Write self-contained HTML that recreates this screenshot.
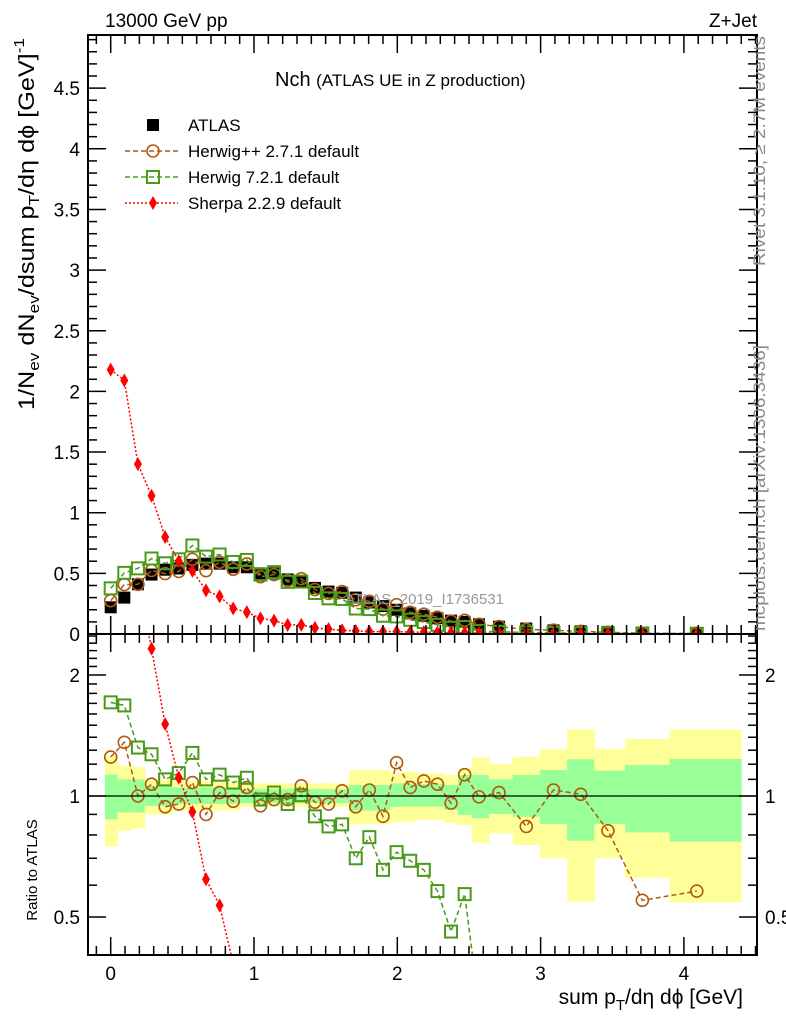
<!DOCTYPE html>
<html><head><meta charset="utf-8"><style>
html,body{margin:0;padding:0;background:#fff;font-family:"Liberation Sans",sans-serif;overflow:hidden;width:786px;height:1024px}
svg{display:block}
</style></head><body>
<svg id="c" width="786" height="1024" xmlns="http://www.w3.org/2000/svg" font-family="Liberation Sans, sans-serif">
<defs>
<clipPath id="ct"><rect x="88" y="35" width="669" height="599"/></clipPath>
<clipPath id="cb"><rect x="88" y="634" width="669" height="321"/></clipPath>
</defs>
<g id="bands" clip-path="url(#cb)"></g>
<g id="marks"></g>
<g id="frame"></g>
<text x="105" y="27" font-size="19">13000 GeV pp</text>
<text x="757" y="27" font-size="19" text-anchor="end">Z+Jet</text>
<text x="275" y="86" font-size="20">Nch <tspan font-size="17">(ATLAS UE in Z production)</tspan></text>
<text x="345" y="604" font-size="15" fill="#999">ATLAS_2019_I1736531</text>
<text transform="translate(765,266) rotate(-90)" font-size="17" fill="#888" textLength="230" lengthAdjust="spacingAndGlyphs">Rivet 3.1.10, ≥ 2.7M events</text>
<text transform="translate(765,631) rotate(-90)" font-size="17" fill="#888" textLength="286" lengthAdjust="spacingAndGlyphs">mcplots.cern.ch [arXiv:1306.3436]</text>
<text transform="translate(34,410) rotate(-90)" font-size="22" textLength="372" lengthAdjust="spacingAndGlyphs">1/N<tspan font-size="15" dy="5">ev</tspan><tspan dy="-5"> dN</tspan><tspan font-size="15" dy="5">ev</tspan><tspan dy="-5">/dsum p</tspan><tspan font-size="15" dy="5">T</tspan><tspan dy="-5">/dη dϕ  [GeV]</tspan><tspan font-size="15" dy="-10">-1</tspan></text>
<text transform="translate(37,870) rotate(-90)" font-size="15" text-anchor="middle">Ratio to ATLAS</text>
<text x="743" y="1004" font-size="21" text-anchor="end">sum p<tspan font-size="15" dy="6">T</tspan><tspan dy="-6">/dη dϕ [GeV]</tspan></text>
<g id="legend"></g>
</svg>
<script>
const xs=[0,0.095,0.19,0.285,0.38,0.475,0.57,0.665,0.76,0.855,0.95,1.045,1.14,1.235,1.33,1.425,1.52,1.615,1.71,1.805,1.9,1.995,2.09,2.185,2.28,2.375,2.47,2.57,2.71,2.90,3.09,3.28,3.47,3.71,4.09];
const atlas=[0.22,0.30,0.41,0.49,0.53,0.54,0.57,0.58,0.58,0.55,0.55,0.50,0.50,0.45,0.43,0.38,0.35,0.34,0.30,0.26,0.23,0.20,0.17,0.15,0.13,0.11,0.10,0.08,0.06,0.045,0.03,0.022,0.017,0.012,0.008];
const herwigppRatio=[1.25,1.36,1.0,1.07,0.94,0.955,1.08,0.90,1.02,0.97,1.05,0.945,0.98,0.98,1.06,0.965,0.955,1.03,0.94,1.035,0.89,1.21,1.05,1.09,1.07,0.96,1.13,0.995,1.02,0.84,1.035,1.01,0.82,0.55,0.58];
const herwig7Ratio=[1.71,1.68,1.32,1.27,1.10,1.14,1.28,1.10,1.13,1.08,1.11,0.98,1.02,0.955,1.005,0.89,0.84,0.85,0.70,0.79,0.655,0.725,0.69,0.655,0.58,0.46,0.57,0.3,0.3,0.3,0.3,0.3,0.3,0.3,0.3];
const sherpa=[2.18,2.09,1.40,1.14,0.80,0.60,0.52,0.36,0.31,0.21,0.18,0.13,0.11,0.075,0.075,0.05,0.04,0.03,0.025,0.02,0.02,0.02,0.015,0.015,0.012,0.01,0.01,0.008,0.006,0.005,0.004,0.003,0.003,0.002,0.002];
const bandYelHi=[1.26,1.19,1.18,1.10,1.10,1.09,1.09,1.09,1.09,1.09,1.075,1.075,1.075,1.075,1.075,1.075,1.075,1.075,1.16,1.16,1.16,1.14,1.15,1.139,1.139,1.128,1.172,1.248,1.201,1.253,1.307,1.465,1.311,1.386,1.465];
const bandYelLo=[0.75,0.82,0.83,0.90,0.90,0.92,0.92,0.92,0.92,0.92,0.94,0.94,0.94,0.94,0.94,0.94,0.94,0.94,0.85,0.85,0.85,0.86,0.863,0.872,0.872,0.858,0.847,0.763,0.807,0.755,0.700,0.546,0.700,0.626,0.543];
const bandGrnHi=[1.13,1.10,1.10,1.06,1.06,1.05,1.05,1.05,1.05,1.05,1.04,1.04,1.04,1.04,1.04,1.04,1.04,1.04,1.065,1.065,1.065,1.075,1.075,1.071,1.071,1.065,1.128,1.128,1.100,1.128,1.161,1.234,1.156,1.194,1.236];
const bandGrnLo=[0.875,0.91,0.91,0.945,0.945,0.955,0.955,0.955,0.955,0.955,0.96,0.96,0.96,0.96,0.96,0.96,0.96,0.96,0.92,0.92,0.92,0.94,0.941,0.941,0.941,0.923,0.897,0.880,0.902,0.888,0.852,0.774,0.852,0.812,0.770];
const yTicksTop=[0,0.5,1,1.5,2,2.5,3,3.5,4,4.5];
const yTicksRatio=[0.5,1,2];
const xTicks=[0,1,2,3,4];

const NS="http://www.w3.org/2000/svg";
const X=v=>110.7+v*143.3;
const YT=v=>634-v*121.3;
const YR=r=>796-Math.log2(r)*121;
function el(t,a,p){const e=document.createElementNS(NS,t);for(const k in a)e.setAttribute(k,a[k]);p.appendChild(e);return e;}
const bands=document.getElementById('bands'),marks=document.getElementById('marks'),frame=document.getElementById('frame'),leg=document.getElementById('legend');

for(let i=0;i<xs.length;i++){
  const l=i==0?X(-0.04):(X(xs[i-1])+X(xs[i]))/2;
  const r=i==xs.length-1?X(4.4):(X(xs[i])+X(xs[i+1]))/2;
  const y=el('rect',{x:l,y:YR(bandYelHi[i]),width:r-l+0.5,height:YR(bandYelLo[i])-YR(bandYelHi[i]),fill:'#ffff99'},bands);
  
  
  const g=el('rect',{x:l,y:YR(bandGrnHi[i]),width:r-l+0.5,height:YR(bandGrnLo[i])-YR(bandGrnHi[i]),fill:'#99ff99'},bands);
  
  
}
el('line',{x1:88,x2:757,y1:YR(1),y2:YR(1),stroke:'#000','stroke-width':1.3},frame);

function marker(type,x,y,p){
  let m;
  if(type=='sq') m=el('rect',{x:x-6,y:y-6,width:12,height:12,fill:'none',stroke:'#4a9a1a','stroke-width':2},p);
  else if(type=='fsq') m=el('rect',{x:x-6,y:y-6,width:12,height:12,fill:'#000'},p);
  else if(type=='ci') m=el('circle',{cx:x,cy:y,r:6,fill:'none',stroke:'#b05a10','stroke-width':1.6},p);
  else m=el('polygon',{points:`${x},${y-7} ${x+4},${y} ${x},${y+7} ${x-4},${y}`,fill:'#ff0000'},p);
  return m;
}
function series(name,type,color,dash,vals,Y,clip){
  const g=el('g',{'clip-path':`url(#${clip})`},marks);
  
  
  if(dash){el('polyline',{points:vals.map((v,i)=>X(xs[i])+','+Y(v)).join(' '),fill:'none',stroke:color,'stroke-width':1.5,'stroke-dasharray':dash},g);}
  vals.forEach((v,i)=>{const m=marker(type,X(xs[i]),Y(v),g);
    
    });
}
const hppTop=atlas.map((a,i)=>a*herwigppRatio[i]);
const h7Top=atlas.map((a,i)=>a*herwig7Ratio[i]);
const sherpaRatio=sherpa.map((s,i)=>s/atlas[i]);
series('atlas-data','fsq','#000',null,atlas,YT,'ct');
series('herwigpp-top','ci','#b05a10','5,3',hppTop,YT,'ct');
series('herwig7-top','sq','#4a9a1a','5,3',h7Top,YT,'ct');
series('sherpa-top','di','#ff0000','2,2',sherpa,YT,'ct');
series('herwigpp-ratio','ci','#b05a10','5,3',herwigppRatio,YR,'cb');
series('herwig7-ratio','sq','#4a9a1a','5,3',herwig7Ratio,YR,'cb');
series('sherpa-ratio','di','#ff0000','2,2',sherpaRatio,YR,'cb');

[[35,634],[634,955]].forEach(([t,b],k)=>{
  const f=el('rect',{x:88,y:t,width:669,height:b-t,fill:'none',stroke:'#000','stroke-width':2},frame);
  
  
  for(let v=-0.1;v<=4.5;v+=0.1){const vv=Math.round(v*10)/10;const x=X(vv);if(x<89||x>756)continue;
    const big=Math.abs(vv-Math.round(vv))<1e-6;const L=big?18:9;
    el('line',{x1:x,x2:x,y1:b,y2:b-L,stroke:'#000','stroke-width':1.5},frame);
    el('line',{x1:x,x2:x,y1:t,y2:t+L,stroke:'#000','stroke-width':1.5},frame);}
});
for(let v=0;v<=4.9;v+=0.1){const vv=Math.round(v*10)/10;const y=YT(vv);const big=Math.abs(vv*2-Math.round(vv*2))<1e-6;const L=big?18:9;
  el('line',{x1:88,x2:88+L,y1:y,y2:y,stroke:'#000','stroke-width':1.5},frame);
  el('line',{x1:757,x2:757-L,y1:y,y2:y,stroke:'#000','stroke-width':1.5},frame);}
yTicksTop.forEach(v=>{const t=el('text',{x:80,y:YT(v)+7,'font-size':19,'text-anchor':'end'},frame);t.textContent=String(v);
  
  });
[0.4,0.5,0.6,0.7,0.8,0.9,1,1.1,1.2,1.3,1.4,1.5,1.6,1.7,1.8,1.9,2,2.1,2.2,2.3,2.4,2.5].forEach(v=>{const y=YR(v);if(y<635||y>954)return;
  const big=(v==0.5||v==1||v==2);const L=big?18:9;
  el('line',{x1:88,x2:88+L,y1:y,y2:y,stroke:'#000','stroke-width':1.5},frame);
  el('line',{x1:757,x2:757-L,y1:y,y2:y,stroke:'#000','stroke-width':1.5},frame);});
yTicksRatio.forEach(v=>{[[80,'end'],[765,'start']].forEach(([x,a])=>{const t=el('text',{x:x,y:YR(v)+7,'font-size':19,'text-anchor':a},frame);t.textContent=String(v);
  
  });});
xTicks.forEach(v=>{const t=el('text',{x:X(v),y:980,'font-size':19,'text-anchor':'middle'},frame);t.textContent=String(v);
  
  });

const entries=[['fsq','#000',null,'ATLAS',125],['ci','#b05a10','5,3','Herwig++ 2.7.1 default',151],['sq','#4a9a1a','5,3','Herwig 7.2.1 default',177],['di','#ff0000','2,2','Sherpa 2.2.9 default',203]];
entries.forEach(([ty,c,d,lab,y])=>{const g=el('g',{},leg);
  
  
  if(d)el('line',{x1:125,x2:178,y1:y,y2:y,stroke:c,'stroke-width':1.5,'stroke-dasharray':d},g);
  marker(ty,153,y,g);
  const t=el('text',{x:188,y:y+6,'font-size':17},g);t.textContent=lab;});
</script>
</body></html>
